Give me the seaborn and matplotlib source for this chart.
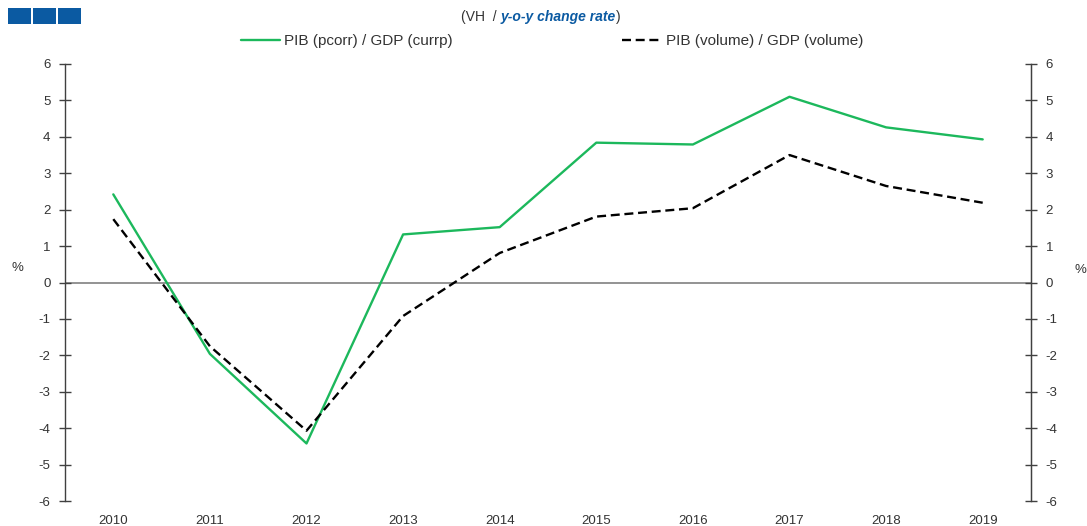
import matplotlib
matplotlib.use("Agg")
import matplotlib.pyplot as plt
import seaborn as sns
import pandas as pd
from matplotlib.lines import Line2D
from matplotlib.patches import Rectangle

years = [2010, 2011, 2012, 2013, 2014, 2015, 2016, 2017, 2018, 2019]
gdp_currp = [2.42, -1.96, -4.42, 1.32, 1.52, 3.84, 3.79, 5.10, 4.26, 3.93]
gdp_volume = [1.74, -1.75, -4.07, -0.92, 0.81, 1.81, 2.04, 3.50, 2.65, 2.19]
yticks = [-6, -5, -4, -3, -2, -1, 0, 1, 2, 3, 4, 5, 6]
label_currp = "PIB (pcorr) / GDP (currp)"
label_volume = "PIB (volume) / GDP (volume)"

sns.set_style("white")
plt.rcParams['font.family'] = ['Liberation Sans', 'DejaVu Sans']
plt.rcParams['axes.unicode_minus'] = False

GREEN = "#1cb85c"
DASH = (0, (3.8, 2.0))
LW = 1.7

W, H = 1087, 526
fig = plt.figure(figsize=(W / 100, H / 100), dpi=100)
ax = fig.add_axes([65 / W, 25 / H, (1031 - 65) / W, (501 - 64) / H])

df = pd.DataFrame({"year": years, "currp": gdp_currp, "volume": gdp_volume})
sns.lineplot(data=df, x="year", y="currp", ax=ax, color=GREEN, linewidth=LW)
sns.lineplot(data=df, x="year", y="volume", ax=ax, color="black", linewidth=LW,
             linestyle=DASH)

ax.axhline(0, color="#808080", linewidth=1.2, zorder=0)
ax.set_xlim(2009.5, 2019.5)
ax.set_ylim(-6, 6)
ax.set_xticks(years)
ax.set_xticklabels([str(y) for y in years])
ax.set_yticks(yticks)
ax.set_xlabel("")
ax.set_ylabel("")
for s in ["top", "bottom"]:
    ax.spines[s].set_visible(False)
for s in ["left", "right"]:
    ax.spines[s].set_visible(True)
    ax.spines[s].set_color("#404040")
    ax.spines[s].set_linewidth(1)
ax.tick_params(axis="y", direction="inout", length=9, width=1, color="#404040",
               labelsize=9.5, labelcolor="#333333", pad=6)
ax.tick_params(axis="x", length=0, labelsize=9.5, labelcolor="#333333", pad=10)

ax2 = ax.twinx()
ax2.set_ylim(-6, 6)
ax2.set_yticks(yticks)
for s in ["top", "bottom", "left"]:
    ax2.spines[s].set_visible(False)
ax2.spines["right"].set_color("#404040")
ax2.tick_params(axis="y", direction="inout", length=9, width=1, color="#404040",
                labelsize=9.5, labelcolor="#333333", pad=6)

fig.text(17 / W, 1 - 268 / H, "%", fontsize=9.5, color="#333333", ha="center", va="center")
fig.text(1080 / W, 1 - 270 / H, "%", fontsize=9.5, color="#333333", ha="center", va="center")

# blue squares
for i in range(3):
    fig.patches.append(Rectangle(((8 + i * 25) / W, 1 - 24 / H), 23 / W, 16 / H,
                                 transform=fig.transFigure, facecolor="#0b5aa2",
                                 edgecolor="none"))

# title pieces
renderer = fig.canvas.get_renderer()
pieces = [("(VH  / ", dict(color="#333333")),
          ("y-o-y change rate", dict(color="#0b5aa2", fontweight="bold", fontstyle="italic")),
          (")", dict(color="#333333"))]
texts = []
widths = []
for s, kw in pieces:
    t = fig.text(0, 1 - 17 / H, s, fontsize=10, va="center", ha="left", **kw)
    widths.append(t.get_window_extent(renderer).width)
    texts.append(t)
total = sum(widths)
x = 541 - total / 2
for t, w in zip(texts, widths):
    t.set_x(x / W)
    x += w

handles = [Line2D([], [], color=GREEN, linewidth=LW),
           Line2D([], [], color="black", linewidth=LW, linestyle=DASH)]
fig.legend(handles, [label_currp, label_volume], loc="center",
           bbox_to_anchor=(552 / W, 1 - 41 / H), ncol=2, frameon=False,
           fontsize=11, handlelength=2.55, handletextpad=0.3, columnspacing=11.1,
           labelcolor="#333333", borderaxespad=0, borderpad=0)

fig.savefig("out.png", dpi=100)
